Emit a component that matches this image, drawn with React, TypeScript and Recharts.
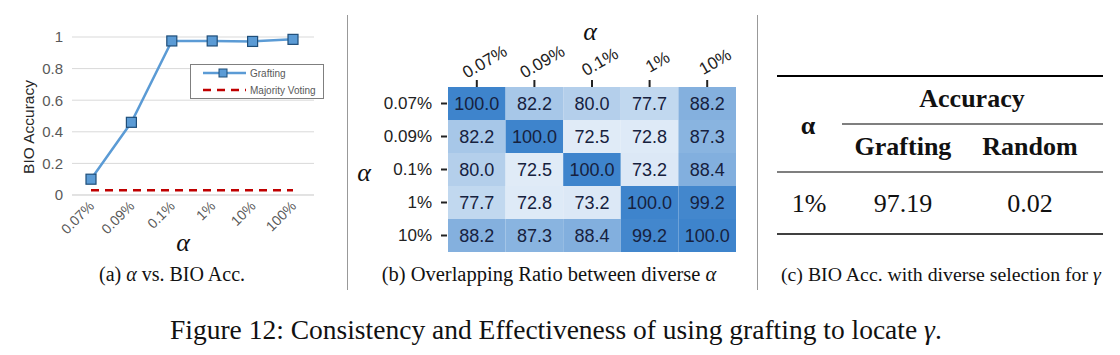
import React from 'react';
import { LineChart, Line, XAxis, YAxis, CartesianGrid, Legend, BarChart, Bar, Cell, LabelList } from 'recharts';

// (a) alpha vs BIO accuracy
const alphaLabels = ['0.07%', '0.09%', '0.1%', '1%', '10%', '100%'];
const graftingAcc = [0.1, 0.46, 0.975, 0.975, 0.972, 0.985];
const majorityAcc = [0.03, 0.03, 0.03, 0.03, 0.03, 0.03];
const accTicks = [0, 0.2, 0.4, 0.6, 0.8, 1];

// (b) overlapping ratio matrix
const overlapLabels = ['0.07%', '0.09%', '0.1%', '1%', '10%'];
const overlapMatrix = [
  [100.0, 82.2, 80.0, 77.7, 88.2],
  [82.2, 100.0, 72.5, 72.8, 87.3],
  [80.0, 72.5, 100.0, 73.2, 88.4],
  [77.7, 72.8, 73.2, 100.0, 99.2],
  [88.2, 87.3, 88.4, 99.2, 100.0],
];

// (c) table
const tableAlpha = ['1%'];
const tableGrafting = [97.19];
const tableRandom = [0.02];

const SANS = '"Liberation Sans", Arial, sans-serif';
const SERIF = '"Liberation Serif", "Times New Roman", serif';

const lineData = alphaLabels.map((alpha, i) => ({
  alpha,
  grafting: graftingAcc[i],
  majority: majorityAcc[i],
}));

const heatRows = overlapLabels.map((label, r) => {
  const row: Record<string, any> = { label };
  overlapLabels.forEach((_, c) => {
    row['c' + c] = 1;
    row['v' + c] = overlapMatrix[r][c];
  });
  return row;
});

// light -> dark blue, like the seaborn Blues map in the figure
const heatColor = (v: number) => {
  const t = Math.max(0, Math.min(1, (v - 72.5) / 27.5));
  const lo = [224, 235, 247];
  const hi = [62, 132, 204];
  const c = lo.map((l, i) => Math.round(l + (hi[i] - l) * t));
  return `rgb(${c[0]},${c[1]},${c[2]})`;
};

const SquareDot = (props: any) => {
  const { cx, cy, index } = props;
  return <rect key={'d' + index} x={cx - 5} y={cy - 5} width={10} height={10} fill="#5b9bd5" stroke="#1f4e79" strokeWidth={1.2} />;
};

const AlphaTick = ({ x, y, payload }: any) => (
  <text
    transform={`translate(${x + 4},${y + 4}) rotate(-45)`}
    textAnchor="end"
    fontSize={14}
    fill="#595959"
    fontFamily={SANS}
  >
    {payload.value}
  </text>
);

const LegendBox = () => (
  <div style={{ width: 134, height: 35, border: '1px solid #7f7f7f', background: '#fff', boxSizing: 'border-box' }}>
    <svg width={132} height={33}>
      <line x1={12} x2={55} y1={8} y2={8} stroke="#5b9bd5" strokeWidth={2.5} />
      <rect x={28} y={4} width={8} height={8} fill="#5b9bd5" stroke="#1f4e79" strokeWidth={1} />
      <text x={59} y={12} fontSize={10} fill="#595959" fontFamily={SANS}>Grafting</text>
      <line x1={12} x2={55} y1={25} y2={25} stroke="#c00000" strokeWidth={2.5} strokeDasharray="8 6" />
      <text x={59} y={29} fontSize={10} fill="#595959" fontFamily={SANS}>Majority Voting</text>
    </svg>
  </div>
);

const TopTick = ({ x, y, payload, index }: any) => (
  <g>
    <line x1={x} x2={x} y1={y + 1} y2={y + 8} stroke="#222" strokeWidth={2} />
    <text
      transform={`translate(${x + 8},${y - 17}) rotate(-30)`}
      textAnchor="middle"
      dominantBaseline="central"
      fontSize={17}
      fill="#222"
      fontFamily={SANS}
    >
      {overlapLabels[index] ?? payload.value}
    </text>
  </g>
);

const LeftTick = ({ x, y, payload }: any) => (
  <g>
    <line x1={x + 1} x2={x + 7} y1={y} y2={y} stroke="#222" strokeWidth={2} />
    <text x={x - 8} y={y} textAnchor="end" dominantBaseline="central" fontSize={17} fill="#222" fontFamily={SANS}>
      {payload.value}
    </text>
  </g>
);

const serifText = { fontFamily: SERIF };

const Overlay = () => (
  <svg width={1120} height={355} style={{ position: 'absolute', left: 0, top: 0, pointerEvents: 'none' }}>
    {/* separators */}
    <line x1={347.5} x2={347.5} y1={15} y2={290} stroke="#999" strokeWidth={1} />
    <line x1={757.5} x2={757.5} y1={15} y2={290} stroke="#999" strokeWidth={1} />

    {/* (a) labels */}
    <text transform="translate(28,127) rotate(-90)" textAnchor="middle" dominantBaseline="central" fontSize={15.5} fill="#262626" fontFamily={SANS}>
      BIO Accuracy
    </text>
    <text x={183} y={251} textAnchor="middle" fontSize={26} fontStyle="italic" style={serifText} fill="#111">α</text>
    <text x={172} y={281} textAnchor="middle" fontSize={20} style={serifText} fill="#111">
      (a) <tspan fontStyle="italic">α</tspan> vs. BIO Acc.
    </text>

    {/* (b) labels */}
    <text x={590} y={40} textAnchor="middle" fontSize={26} fontStyle="italic" style={serifText} fill="#111">α</text>
    <text x={364} y={181} textAnchor="middle" fontSize={26} fontStyle="italic" style={serifText} fill="#111">α</text>
    <text x={549} y={281} textAnchor="middle" fontSize={20.5} style={serifText} fill="#111">
      (b) Overlapping Ratio between diverse <tspan fontStyle="italic">α</tspan>
    </text>

    {/* (c) table */}
    <line x1={777} x2={1103} y1={76} y2={76} stroke="#000" strokeWidth={2} />
    <line x1={842} x2={1103} y1={124} y2={124} stroke="#000" strokeWidth={1.2} />
    <line x1={777} x2={1103} y1={172} y2={172} stroke="#000" strokeWidth={1.2} />
    <line x1={777} x2={1103} y1={234} y2={234} stroke="#000" strokeWidth={1.5} />
    <text x={972} y={107} textAnchor="middle" fontSize={26} fontWeight="bold" style={serifText} fill="#111">Accuracy</text>
    <text x={808} y={134} textAnchor="middle" fontSize={26} fontWeight="bold" style={serifText} fill="#111">α</text>
    <text x={903} y={155} textAnchor="middle" fontSize={26} fontWeight="bold" style={serifText} fill="#111">Grafting</text>
    <text x={1030} y={155} textAnchor="middle" fontSize={26} fontWeight="bold" style={serifText} fill="#111">Random</text>
    {tableAlpha.map((a, i) => (
      <g key={a}>
        <text x={809} y={212} textAnchor="middle" fontSize={26} style={serifText} fill="#111">{a}</text>
        <text x={903} y={212} textAnchor="middle" fontSize={26} style={serifText} fill="#111">{tableGrafting[i].toFixed(2)}</text>
        <text x={1030} y={212} textAnchor="middle" fontSize={26} style={serifText} fill="#111">{tableRandom[i].toFixed(2)}</text>
      </g>
    ))}
    <text x={781} y={281} fontSize={19.8} style={serifText} fill="#111">
      (c) BIO Acc. with diverse selection for <tspan fontStyle="italic">γ</tspan>
    </text>

    {/* figure caption */}
    <text x={170} y={339} fontSize={27.5} style={serifText} fill="#111">
      Figure 12: Consistency and Effectiveness of using grafting to locate <tspan fontStyle="italic">γ</tspan>.
    </text>
  </svg>
);

export default function App() {
  return (
    <div style={{ position: 'absolute', left: 0, top: 0, width: 1120, height: 355, background: '#fff', overflow: 'hidden' }}>
      <div style={{ position: 'absolute', left: 0, top: 0 }}>
        <LineChart width={340} height={290} data={lineData} margin={{ top: 37, right: 26, bottom: 35, left: 0 }}>
          <CartesianGrid vertical={false} stroke="#d9d9d9" />
          <XAxis
            dataKey="alpha"
            height={60}
            padding={{ left: 19, right: 21 }}
            axisLine={{ stroke: '#d9d9d9' }}
            tickLine={false}
            tick={<AlphaTick />}
            interval={0}
          />
          <YAxis
            width={72}
            domain={[0, 1]}
            ticks={accTicks}
            axisLine={false}
            tickLine={false}
            tickMargin={3}
            tick={{ fontSize: 15, fill: '#595959', fontFamily: SANS }}
          />
          <Legend
            layout="horizontal"
            verticalAlign="middle"
            align="center"
            wrapperStyle={{ left: 190, top: 64, width: 134, height: 35 }}
            content={() => <LegendBox />}
          />
          <Line
            dataKey="majority"
            stroke="#c00000"
            strokeWidth={2.5}
            strokeDasharray="8 6"
            dot={false}
            isAnimationActive={false}
          />
          <Line
            dataKey="grafting"
            stroke="#5b9bd5"
            strokeWidth={2.5}
            dot={<SquareDot />}
            isAnimationActive={false}
          />
        </LineChart>
      </div>

      <div style={{ position: 'absolute', left: 340, top: 0 }}>
        <BarChart
          width={420}
          height={290}
          data={heatRows}
          layout="vertical"
          barCategoryGap={0}
          barGap={0}
          margin={{ top: 57, right: 24, bottom: 38, left: 0 }}
        >
          <XAxis
            type="number"
            orientation="top"
            domain={[0, 5]}
            ticks={[0.5, 1.5, 2.5, 3.5, 4.5]}
            height={30}
            axisLine={false}
            tickLine={false}
            tick={<TopTick />}
            interval={0}
          />
          <YAxis
            type="category"
            dataKey="label"
            width={108}
            axisLine={false}
            tickLine={false}
            tick={<LeftTick />}
            interval={0}
          />
          {overlapLabels.map((_, c) => (
            <Bar key={'c' + c} dataKey={'c' + c} stackId="heat" isAnimationActive={false}>
              {heatRows.map((row, r) => (
                <Cell key={'cell' + r} fill={heatColor(overlapMatrix[r][c])} />
              ))}
              <LabelList
                dataKey={'v' + c}
                position="center"
                formatter={(v: any) => Number(v).toFixed(1)}
                fill="#16213e"
                fontSize={18}
                fontFamily={SANS}
              />
            </Bar>
          ))}
        </BarChart>
      </div>

      <Overlay />
    </div>
  );
}
